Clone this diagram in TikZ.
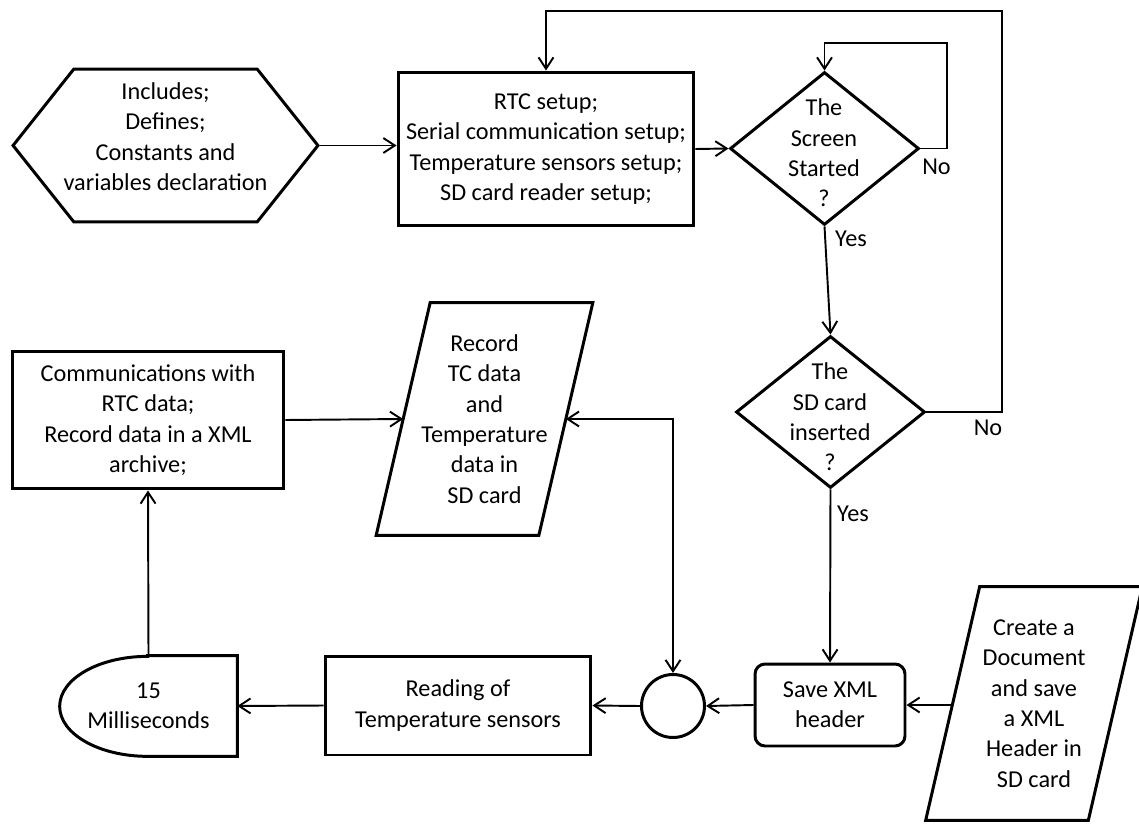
\documentclass[tikz,border=0pt]{standalone}
\usepackage{fontspec}
\setmainfont{Carlito}
\usetikzlibrary{shapes.geometric,shapes.symbols,arrows.meta}
\begin{document}
\begin{tikzpicture}[x=0.02cm,y=-0.02cm,
  font=\fontsize{13.8}{17.25}\selectfont,
  >={Straight Barb[length=6.5pt,width=8.5pt]},
  flow/.style={draw, line width=1.7pt, inner sep=0pt, align=center},
  decision/.style={draw, line width=1.7pt, diamond, inner sep=0pt, minimum width=3.78cm, minimum height=3.06cm},
  io/.style={inner sep=0pt, align=center, minimum width=3.24cm},
  frame/.style={line width=1.7pt},
  link/.style={line width=1.1pt}]
\useasboundingbox (0,0) rectangle (1139,824);
% setup part
\node[flow, signal, signal to=west and east, signal pointer angle=103, minimum width=6.1cm, minimum height=3.06cm] (hexa) at (165.5,145.5) {Includes;\\Defines;\\Constants and\\\makebox[0pt]{variables declaration}\\[-7pt]\mbox{}};
\node[flow, minimum width=5.92cm, minimum height=3.08cm] (rtc) at (546,149) {RTC setup;\\Serial communication setup;\\Temperature sensors setup;\\SD card reader setup;};
\node[decision] (screen) at (824.5,148.5) {};
\node[align=center] (screenq) at (824,153) {The\\Screen\\Started\\?};
\node[decision, minimum height=3.04cm] (card) at (830.5,412) {};
\node[align=center] (cardq) at (830,417) {The\\SD card\\inserted\\?};
\node (no1) at (936.5,167) {No};
\node (yes1) at (851,239) {Yes};
\node (no2) at (988,428) {No};
\node (yes2) at (853,514) {Yes};
% loop part
\node[flow, minimum width=5.44cm, minimum height=2.76cm] (comm) at (148,420) {Communications with\\RTC data;\\Record data in a XML\\archive;};
\node[io, minimum height=4.64cm] (record) at (484.5,419) {Record\\TC data\\and\\Temperature\\data in\\SD card};
\draw[frame] ([xshift=0.54cm]record.north west) -- ([xshift=0.54cm]record.north east) -- ([xshift=-0.54cm]record.south east) -- ([xshift=-0.54cm]record.south west) -- cycle;
\node[flow, rounded corners=0.2cm, minimum width=3cm, minimum height=1.64cm] (save) at (830,705) {Save XML\\header};
\node[io, minimum height=4.66cm] (create) at (1034,703.5) {Create a\\Document\\and save\\a XML\\Header in\\SD card};
\draw[frame] ([xshift=0.54cm]create.north west) -- ([xshift=0.54cm]create.north east) -- ([xshift=-0.54cm]create.south east) -- ([xshift=-0.54cm]create.south west) -- cycle;
\node[flow, circle, minimum size=1.26cm] (junct) at (673,706) {};
\node[flow, minimum width=5.32cm, minimum height=1.98cm] (reading) at (458,705.5) {Reading of\\Temperature sensors};
\node[io, minimum width=3.54cm, minimum height=2cm] (delay) at (148.5,706) {15\\Milliseconds};
\draw[frame] ([xshift=1.76cm]delay.north west) -- (delay.north east) -- (delay.south east) -- ([xshift=1.76cm]delay.south west) arc[start angle=-90, end angle=-270, x radius=1.76cm, y radius=1cm] -- cycle;
\coordinate (loop) at (947,43);
\coordinate (back) at (1002,11);
% connectors
\draw[link,->] (hexa.east) -- (hexa.east -| rtc.west);
\draw[link,->] (rtc.east) -- (screen.west);
\draw[link,->] (screen.east) -| (loop) -| (screen.north);
\draw[link,->] (screen.south) -- (card.north);
\draw[link,->] (card.east) -| (back) -| (rtc.north);
\draw[link,->] (card.south) -- (save.north);
\draw[link,->] (save.east -| create.west) -- (save.east);
\draw[link,->] (save.west) -- (junct.east);
\draw[link,->] (junct.west) -- (reading.east);
\draw[link,->] (reading.west) -- (delay.east);
\draw[link,->] (delay.north) -- (comm.south);
\draw[link,->] (comm.east) -- (record.west);
\draw[link,<->] (record.east) -| (junct.north);
\end{tikzpicture}
\end{document}
